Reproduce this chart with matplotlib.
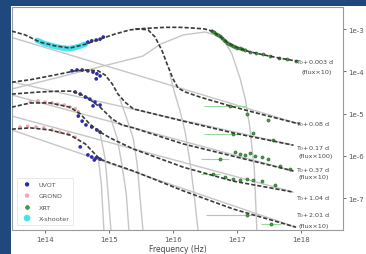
import numpy as np
import matplotlib
matplotlib.use("Agg")
import matplotlib.pyplot as plt
from matplotlib.patches import Rectangle
from matplotlib.ticker import FixedLocator, FuncFormatter, NullLocator

# ---------------- data (log10 frequency [Hz], log10 flux) ----------------
# total model curves (dashed)
m0003_lnu = [15.41, 15.64, 15.88, 16.11, 16.34, 16.50, 16.61, 16.73, 16.86, 17.02, 17.20, 17.44, 17.67, 17.94]
m0003_lf = [-3.00, -2.98, -2.96, -2.96, -2.98, -3.00, -3.05, -3.17, -3.33, -3.45, -3.54, -3.62, -3.69, -3.76]

m008_lnu = [13.48, 13.69, 13.92, 14.16, 14.39, 14.63, 14.86, 15.09, 15.33, 15.48, 15.61, 15.72, 15.83,
            15.92, 16.00, 16.08, 16.19, 16.42, 16.89, 17.36, 17.98]
m008_lf = [-3.05, -3.14, -3.31, -3.40, -3.45, -3.36, -3.24, -3.12, -3.02, -3.00, -3.02, -3.19, -3.52,
           -3.88, -4.18, -4.40, -4.49, -4.61, -4.82, -5.01, -5.25]

m017_lnu = [13.48, 13.77, 14.08, 14.31, 14.47, 14.67, 14.83, 14.94, 15.05, 15.14, 15.25, 15.38, 16.16, 16.94, 17.88]
m017_lf = [-4.26, -4.20, -4.11, -4.04, -3.99, -3.97, -3.99, -4.09, -4.30, -4.54, -4.73, -4.89, -5.18, -5.46, -5.75]

m037_lnu = [13.48, 13.92, 14.23, 14.42, 14.63, 14.86, 15.05, 15.20, 15.38, 16.16, 16.94, 17.88]
m037_lf = [-4.54, -4.49, -4.47, -4.47, -4.59, -4.85, -5.13, -5.27, -5.34, -5.72, -6.01, -6.36]

m104_lnu = [13.48, 13.77, 14.08, 14.39, 14.55, 14.70, 14.86, 15.02, 15.38, 16.16, 16.94, 17.88]
m104_lf = [-4.85, -4.75, -4.75, -4.85, -5.01, -5.25, -5.44, -5.58, -5.84, -6.27, -6.60, -6.86]

m201_lnu = [13.48, 13.77, 14.08, 14.39, 14.63, 14.78, 14.86, 15.02, 15.38, 16.16, 16.94, 17.92]
m201_lf = [-5.37, -5.34, -5.39, -5.51, -5.72, -5.96, -6.08, -6.17, -6.36, -6.83, -7.26, -7.69]

# model components (grey)
c_pl008_lnu = [13.48, 17.98]
c_pl008_lf = [-3.20, -5.25]
c_pl017_lnu = [13.48, 17.88]
c_pl017_lf = [-4.25, -5.75]
c_pl037_lnu = [13.48, 17.88]
c_pl037_lf = [-4.56, -6.36]
c_pl104_lnu = [13.48, 17.88]
c_pl104_lf = [-5.06, -6.86]
c_pl201_lnu = [13.48, 17.92]
c_pl201_lf = [-5.39, -7.69]
c_bb0003_lnu = [13.48, 15.53, 15.80, 16.16, 16.50, 16.77, 16.92, 17.05, 17.13, 17.20, 17.27, 17.31]
c_bb0003_lf = [-4.42, -3.64, -3.36, -3.14, -3.07, -3.19, -3.59, -4.18, -4.66, -5.32, -6.31, -7.76]
c_bb008_lnu = [15.95, 16.03, 16.11, 16.19, 16.27, 16.33, 16.39]
c_bb008_lf = [-4.07, -4.54, -4.94, -5.44, -6.20, -6.91, -7.76]
c_bb017_lnu = [15.17, 15.28, 15.38, 15.44, 15.48, 15.53]
c_bb017_lf = [-4.66, -5.13, -5.60, -6.20, -6.91, -7.76]
c_bb037_lnu = [15.02, 15.13, 15.20, 15.27, 15.31]
c_bb037_lf = [-5.08, -5.60, -6.20, -6.91, -7.76]
c_bb104_lnu = [14.86, 14.94, 14.98, 15.03]
c_bb104_lf = [-5.46, -6.08, -6.79, -7.76]
c_bb201_lnu = [14.83, 14.88, 14.92]
c_bb201_lf = [-6.03, -6.67, -7.76]

# observations
xsh_lnu = [13.88, 13.91, 13.94, 13.97, 14.00, 14.03, 14.06, 14.09, 14.12, 14.15, 14.18, 14.21, 14.24, 14.27,
           14.30, 14.33, 14.36, 14.39, 14.42, 14.45, 14.48, 14.51, 14.54, 14.57, 14.60, 14.63]
xsh_lf = [-3.27, -3.29, -3.31, -3.33, -3.35, -3.36, -3.37, -3.39, -3.40, -3.41, -3.42, -3.43, -3.44, -3.45,
          -3.45, -3.46, -3.46, -3.46, -3.45, -3.45, -3.43, -3.42, -3.41, -3.39, -3.37, -3.36]

uvot_lnu = [14.67, 14.73, 14.80, 14.86, 14.91,
            14.42, 14.50, 14.58, 14.67, 14.75, 14.81, 14.86, 14.80,
            14.47, 14.55, 14.63, 14.70, 14.78, 14.86, 14.75,
            14.52, 14.58, 14.64, 14.73, 14.81, 14.86,
            14.55, 14.67, 14.73, 14.80, 14.86, 14.77]
uvot_lf = [-3.31, -3.28, -3.26, -3.24, -3.19,
           -3.99, -3.97, -3.97, -3.99, -4.02, -4.06, -4.11, -4.18,
           -4.49, -4.54, -4.61, -4.66, -4.73, -4.80, -4.82,
           -5.06, -5.18, -5.27, -5.32, -5.39, -5.44,
           -5.79, -5.98, -6.03, -6.05, -6.08, -6.10]

grond_lnu = [13.77, 13.89, 14.00, 14.11, 14.20, 14.30, 14.39, 14.47, 14.52,
             13.61, 13.73, 13.86, 13.98, 14.11, 14.23, 14.36, 14.47]
grond_lf = [-4.73, -4.70, -4.73, -4.75, -4.78, -4.80, -4.85, -4.89, -4.96,
            -5.32, -5.30, -5.32, -5.34, -5.39, -5.44, -5.48, -5.56]

xrt_lnu = [16.61, 16.64, 16.67, 16.70, 16.73, 16.76, 16.79, 16.82, 16.85, 16.88, 16.91, 16.94, 16.97, 17.00,
           17.04, 17.08, 17.12, 17.20, 17.30, 17.40, 17.52, 17.65, 17.78, 17.92,
           16.89, 17.16, 17.48,
           16.94, 17.25, 17.56,
           16.73, 16.97, 17.05, 17.13, 17.20, 17.28, 17.39, 17.48, 17.67, 17.83,
           16.63, 16.81, 16.94, 17.05, 17.16, 17.25, 17.39, 17.59,
           17.16, 17.53]
xrt_lf = [-3.05, -3.08, -3.11, -3.14, -3.17, -3.21, -3.25, -3.29, -3.32, -3.35, -3.38, -3.40, -3.42, -3.44,
          -3.46, -3.48, -3.50, -3.54, -3.57, -3.60, -3.64, -3.68, -3.72, -3.76,
          -4.82, -5.01, -5.15,
          -5.49, -5.46, -5.63,
          -6.08, -5.91, -5.96, -5.98, -5.93, -6.01, -6.03, -6.08, -6.24, -6.31,
          -6.43, -6.50, -6.55, -6.57, -6.55, -6.57, -6.60, -6.69,
          -7.40, -7.62]
# horizontal error bars (dex, left/right) for the XRT points with visible bars
xrt_err_idx = [24, 27, 30, 40, 48, 49]
xrt_err_lo = [0.40, 0.45, 0.30, 0.20, 0.65, 0.15]
xrt_err_hi = [0.25, 0.10, 0.15, 0.10, 0.10, 0.15]

epoch_labels = ["T$_0$+0.003 d", "T$_0$+0.08 d", "T$_0$+0.17 d", "T$_0$+0.37 d", "T$_0$+1.04 d", "T$_0$+2.01 d"]
scale_labels = ["(flux\u00d710)", "", "(flux\u00d7100)", "(flux\u00d710)", "", "(flux\u00d710)"]
xtick_exp = [14, 15, 16, 17, 18]
ytick_exp = [-7, -6, -5, -4, -3]

# ---------------- figure ----------------
W, H = 366, 255
fig = plt.figure(figsize=(W / 100, H / 100), dpi=100)
fig.patch.set_facecolor('#1f487c')
fig.patches.append(Rectangle((11 / W, 0), (W - 11) / W, (H - 7) / H, transform=fig.transFigure,
                             facecolor='white', edgecolor='none', zorder=-10))
ax = fig.add_axes([12 / W, 24 / H, 331 / W, 223 / H])
ax.set_zorder(1)
ax.set_facecolor('white')

def p(a):
    return 10.0 ** np.asarray(a)

grey = '#c6c6c6'
for lnu, lf in [(c_pl008_lnu, c_pl008_lf), (c_pl017_lnu, c_pl017_lf), (c_pl037_lnu, c_pl037_lf),
                (c_pl104_lnu, c_pl104_lf), (c_pl201_lnu, c_pl201_lf), (c_bb0003_lnu, c_bb0003_lf),
                (c_bb008_lnu, c_bb008_lf), (c_bb017_lnu, c_bb017_lf), (c_bb037_lnu, c_bb037_lf),
                (c_bb104_lnu, c_bb104_lf), (c_bb201_lnu, c_bb201_lf)]:
    ax.plot(p(lnu), p(lf), color=grey, lw=1.0, zorder=1)

# observations
ax.scatter(p(xsh_lnu), p(xsh_lf), s=16, color='#45e3ef', edgecolors='none', zorder=3, label='X-shooter')
ax.scatter(p(grond_lnu), p(grond_lf), s=7, color='#e2606a', alpha=0.55, edgecolors='none', zorder=3, label='GROND')
ax.scatter(p(uvot_lnu), p(uvot_lf), s=7, color='#2b2bb0', edgecolors='none', zorder=3, label='UVOT')
xe_x = p([xrt_lnu[i] for i in xrt_err_idx])
xe_y = p([xrt_lf[i] for i in xrt_err_idx])
lo = xe_x - p([xrt_lnu[i] - d for i, d in zip(xrt_err_idx, xrt_err_lo)])
hi = p([xrt_lnu[i] + d for i, d in zip(xrt_err_idx, xrt_err_hi)]) - xe_x
ax.errorbar(xe_x, xe_y, xerr=[lo, hi], fmt='none', ecolor='#9ad89a', elinewidth=0.8, zorder=2)
ax.plot(p(xrt_lnu[:17]), p(xrt_lf[:17]), color='#5fd35f', lw=2.6, alpha=0.6, zorder=2)
ax.scatter(p(xrt_lnu), p(xrt_lf), s=5, color='#3aa53a', edgecolors='#2d5e2d', linewidths=0.4, zorder=4, label='XRT')

# models
for lnu, lf in [(m0003_lnu, m0003_lf), (m008_lnu, m008_lf), (m017_lnu, m017_lf),
                (m037_lnu, m037_lf), (m104_lnu, m104_lf), (m201_lnu, m201_lf)]:
    ax.plot(p(lnu), p(lf), color='#3a3a3a', lw=1.2, ls=(0, (2.5, 1.2)), zorder=5)

ax.set_xscale('log')
ax.set_yscale('log')
ax.set_xlim(10 ** 13.484, 10 ** 18.656)
ax.set_ylim(10 ** -7.757, 10 ** -2.479)

# labels at the right end of each model
lab_pos = [(17.92, -3.76), (17.92, -5.23), (17.92, -5.80), (17.92, -6.33), (17.92, -7.00), (17.92, -7.38)]
sub_pos = [(18.00, -4.00), None, (17.96, -6.00), (17.96, -6.50), None, (17.96, -7.64)]
for i, (lbl, sl) in enumerate(zip(epoch_labels, scale_labels)):
    ax.text(p(lab_pos[i][0]), p(lab_pos[i][1]), lbl, fontsize=4.6, color='#444444', ha='left', va='center')
    if sl:
        ax.text(p(sub_pos[i][0]), p(sub_pos[i][1]), sl, fontsize=4.6, color='#444444', ha='left', va='center')

ax.xaxis.set_major_locator(FixedLocator(p(xtick_exp)))
ax.xaxis.set_minor_locator(NullLocator())
ax.xaxis.set_major_formatter(FuncFormatter(lambda v, _: "1e%d" % round(np.log10(v))))
ax.yaxis.set_major_locator(FixedLocator(p(ytick_exp)))
ax.yaxis.set_minor_locator(NullLocator())
ax.yaxis.set_major_formatter(FuncFormatter(lambda v, _: "1e%d" % round(np.log10(v))))
ax.yaxis.tick_right()
ax.tick_params(axis='both', labelsize=5, colors='#555555', length=2.5, width=0.6, pad=1.5)
for s in ax.spines.values():
    s.set_color('#9a9a9a')
    s.set_linewidth(0.8)
ax.set_xlabel('Frequency (Hz)', fontsize=5.5, color='#444444', labelpad=1.5)

h, l = ax.get_legend_handles_labels()
order = [l.index(n) for n in ['UVOT', 'GROND', 'XRT', 'X-shooter']]
leg = ax.legend([h[i] for i in order], [l[i] for i in order], loc='lower left', fontsize=4.6,
                frameon=True, borderpad=0.6, handletextpad=0.8, labelspacing=0.9,
                markerscale=1.2, bbox_to_anchor=(0.005, 0.01))
leg.get_frame().set_edgecolor('#dddddd')
leg.get_frame().set_linewidth(0.6)
for t in leg.get_texts():
    t.set_color('#555555')

fig.savefig('out.png', dpi=100, facecolor=fig.get_facecolor())
